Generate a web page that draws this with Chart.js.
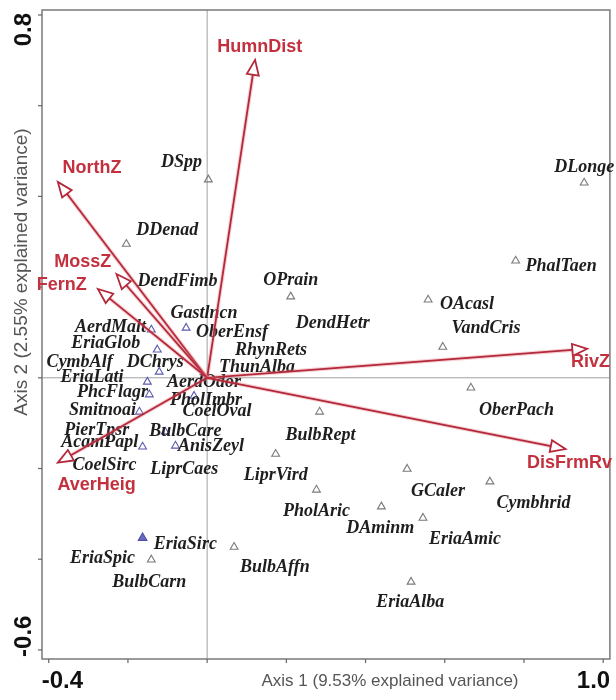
<!DOCTYPE html>
<html><head><meta charset="utf-8">
<script src="https://cdn.jsdelivr.net/npm/chart.js@4.4.1/dist/chart.umd.min.js"></script>
<style>html,body{margin:0;padding:0;background:#fff}#wrap{width:616px;height:700px}</style>
</head><body><div id="wrap"><canvas id="c" width="616" height="700"></canvas></div>
<script>
// ---- data (ordination scores) ----
const speciesNames = ["DSpp","DLonge","DDenad","PhalTaen","OAcasl","VandCris","OberPach","OPrain","DendHetr","DendFimb","Gastlncn","OberEnsf","RhynRets","ThunAlba","AerdMalt","EriaGlob","CymbAlf","DChrys","EriaLati","PhcFlagr","Smitnoai","PierTpsr","AcamPapl","CoelSirc","LiprCaes","BulbCare","AnisZeyl","PholImbr","CoelOval","AerdOdor","BulbRept","LiprVird","PholAric","DAminm","GCaler","Cymbhrid","EriaAmic","EriaAlba","EriaSirc","BulbAffn","EriaSpic","BulbCarn"];
// species point scores (null = no visible symbol)
const speciesX = [0.003,0.952,-0.204,0.779,0.558,0.595,0.666,0.211,null,null,null,-0.053,null,null,-0.141,-0.126,null,-0.121,-0.151,-0.146,-0.171,null,-0.163,null,null,-0.106,-0.080,-0.033,null,null,0.284,0.173,0.276,0.440,0.505,0.714,0.545,0.515,-0.163,0.068,null,-0.141];
const speciesY = [0.437,0.430,0.295,0.258,0.172,0.068,-0.022,0.179,null,null,null,0.110,null,null,0.106,0.062,null,0.013,-0.009,-0.037,-0.075,null,-0.152,null,null,-0.119,-0.150,-0.040,null,null,-0.075,-0.168,-0.247,-0.284,-0.201,-0.229,-0.309,-0.450,-0.353,-0.373,null,-0.401];
// 0 = grey open, 1 = blue open, 2 = blue filled
const speciesGroup = [0,0,0,0,0,0,0,0,0,0,0,1,0,0,1,1,1,1,1,1,1,1,1,1,1,1,1,1,1,1,0,0,0,0,0,0,0,0,2,0,0,0];
// label anchor positions (axis units)
const labelX = [-0.065,0.952,-0.101,0.894,0.656,0.704,0.781,0.211,0.317,-0.075,-0.008,0.063,0.161,0.126,-0.244,-0.256,-0.322,-0.131,-0.291,-0.239,-0.264,-0.279,-0.271,-0.259,-0.058,-0.055,0.010,-0.003,0.025,-0.008,0.286,0.173,0.276,0.437,0.583,0.824,0.651,0.513,-0.055,0.171,-0.264,-0.146];
const labelY = [0.476,0.465,0.326,0.245,0.161,0.110,-0.071,0.216,0.121,0.212,0.143,0.101,0.060,0.024,0.112,0.077,0.035,0.035,0.002,-0.033,-0.071,-0.115,-0.143,-0.194,-0.201,-0.119,-0.152,-0.049,-0.075,-0.011,-0.126,-0.214,-0.295,-0.331,-0.251,-0.276,-0.357,-0.496,-0.368,-0.419,-0.397,-0.452];

const envNames = ["HumnDist","NorthZ","MossZ","FernZ","RivZ","DisFrmRv","AverHeig"];
const envX = [0.121,-0.377,-0.229,-0.276,0.960,0.905,-0.377];
const envY = [0.701,0.432,0.229,0.196,0.064,-0.157,-0.187];
const envLabelX = [0.133,-0.291,-0.314,-0.367,0.968,0.915,-0.279];
const envLabelY = [0.730,0.463,0.256,0.205,0.035,-0.187,-0.236];

const xTicks = [-0.4,-0.2,0,0.2,0.4,0.6,0.8,1.0];
const xTickLabels = ["-0.4","","","","","","","1.0"];
const yTicks = [-0.6,-0.4,-0.2,0,0.2,0.4,0.6,0.8];
const yTickLabels = ["-0.6","","","","","","","0.8"];
const xTitle = "Axis 1 (9.53% explained variance)";
const yTitle = "Axis 2 (2.55% explained variance)";

// ---- build datasets ----
function pts(g){
  const out=[];
  speciesX.forEach((v,i)=>{ if(v!==null && speciesGroup[i]===g) out.push({x:v,y:speciesY[i]}); });
  return out;
}

const RED = '#c3313f';
const ARROW = '#b3283a';

const plotPlugin = {
  id:'plotPlugin',
  beforeDatasetsDraw(chart){
    const {ctx, chartArea:a, scales:{x,y}} = chart;
    ctx.save();
    const x0=x.getPixelForValue(0), y0=y.getPixelForValue(0);
    ctx.strokeStyle='#a0a0a0'; ctx.lineWidth=1;
    ctx.beginPath(); ctx.moveTo(x0,a.top); ctx.lineTo(x0,a.bottom); ctx.stroke();
    ctx.beginPath(); ctx.moveTo(a.left,y0); ctx.lineTo(a.right,y0); ctx.stroke();
    ctx.strokeStyle='#7a7a7a'; ctx.lineWidth=1.5;
    ctx.strokeRect(a.left,a.top,a.right-a.left,a.bottom-a.top);
    ctx.lineWidth=1.2; ctx.strokeStyle='#666';
    xTicks.forEach(v=>{const p=x.getPixelForValue(v); ctx.beginPath(); ctx.moveTo(p,a.bottom); ctx.lineTo(p,a.bottom+4); ctx.stroke();});
    yTicks.forEach(v=>{const p=y.getPixelForValue(v); ctx.beginPath(); ctx.moveTo(a.left-4,p); ctx.lineTo(a.left,p); ctx.stroke();});
    ctx.restore();
  },
  afterDatasetsDraw(chart){
    const {ctx, chartArea:a, scales:{x,y}} = chart;
    ctx.save();
    // species labels
    ctx.font = 'italic bold 18px "Liberation Serif", "Times New Roman", serif';
    ctx.fillStyle = '#1e1e1e';
    ctx.textAlign='center'; ctx.textBaseline='middle';
    speciesNames.forEach((n,i)=>{
      ctx.fillText(n, x.getPixelForValue(labelX[i]), y.getPixelForValue(labelY[i]));
    });
    // arrows
    const ox=x.getPixelForValue(0), oy=y.getPixelForValue(0);
    envNames.forEach((n,i)=>{
      const tx=x.getPixelForValue(envX[i]), ty=y.getPixelForValue(envY[i]);
      const ang=Math.atan2(ty-oy,tx-ox);
      const L=15, W=6;
      const bx=tx-L*Math.cos(ang), by=ty-L*Math.sin(ang);
      ctx.strokeStyle='rgba(230,120,130,0.35)'; ctx.lineWidth=4;
      ctx.beginPath(); ctx.moveTo(ox,oy); ctx.lineTo(bx,by); ctx.stroke();
      ctx.strokeStyle=ARROW; ctx.lineWidth=1.8;
      ctx.beginPath(); ctx.moveTo(ox,oy); ctx.lineTo(bx,by); ctx.stroke();
      ctx.beginPath();
      ctx.moveTo(tx,ty);
      ctx.lineTo(bx+W*Math.sin(ang), by-W*Math.cos(ang));
      ctx.lineTo(bx-W*Math.sin(ang), by+W*Math.cos(ang));
      ctx.closePath();
      ctx.lineWidth=1.8; ctx.stroke();
    });
    // env labels
    ctx.font = 'bold 18px "Liberation Sans", Arial, sans-serif';
    ctx.fillStyle = RED;
    envNames.forEach((n,i)=>{
      ctx.fillText(n, x.getPixelForValue(envLabelX[i]), y.getPixelForValue(envLabelY[i]));
    });
    ctx.restore();
  },
  afterDraw(chart){
    const {ctx, chartArea:a, scales:{x,y}} = chart;
    ctx.save();
    ctx.fillStyle='#111';
    ctx.font='bold 24px "Liberation Sans", Arial, sans-serif';
    ctx.textBaseline='middle';
    const ty = a.bottom+22;
    xTicks.forEach((v,i)=>{
      const lab=xTickLabels[i]; if(!lab) return;
      const p=x.getPixelForValue(v);
      if(i===0){ctx.textAlign='left'; ctx.fillText(lab,p-7,ty);}
      else {ctx.textAlign='right'; ctx.fillText(lab,p+7,ty);}
    });
    yTicks.forEach((v,i)=>{
      const lab=yTickLabels[i]; if(!lab) return;
      const p=y.getPixelForValue(v);
      ctx.save(); ctx.translate(a.left-18,p); ctx.rotate(-Math.PI/2);
      if(i===0){ctx.textAlign='left'; ctx.fillText(lab,-7,0);}
      else {ctx.textAlign='right'; ctx.fillText(lab,2,0);}
      ctx.restore();
    });
    ctx.fillStyle='#555';
    ctx.font='17px "Liberation Sans", Arial, sans-serif';
    ctx.textAlign='center';
    ctx.fillText(xTitle, 390, ty);
    ctx.save(); ctx.translate(22, 272); ctx.rotate(-Math.PI/2);
    ctx.font='19px "Liberation Sans", Arial, sans-serif';
    ctx.fillText(yTitle,0,0); ctx.restore();
    ctx.restore();
  }
};

new Chart(document.getElementById('c'), {
  type:'scatter',
  data:{datasets:[
    {data:pts(0), pointStyle:'triangle', pointRadius:4.5, borderColor:'#7a7a7a', backgroundColor:'rgba(0,0,0,0)', borderWidth:1.1},
    {data:pts(1), pointStyle:'triangle', pointRadius:4.5, borderColor:'#5a5ab0', backgroundColor:'rgba(0,0,0,0)', borderWidth:1.1},
    {data:pts(2), pointStyle:'triangle', pointRadius:5, borderColor:'#5050a8', backgroundColor:'#6a6ac0', borderWidth:1.1}
  ]},
  options:{
    responsive:false, animation:false, devicePixelRatio:1,
    layout:{padding:{left:42,top:10,right:3,bottom:41}},
    plugins:{legend:{display:false}, tooltip:{enabled:false}},
    scales:{
      x:{type:'linear', min:-0.417, max:1.017, display:false},
      y:{type:'linear', min:-0.62, max:0.811, display:false}
    }
  },
  plugins:[plotPlugin]
});
</script></body></html>
